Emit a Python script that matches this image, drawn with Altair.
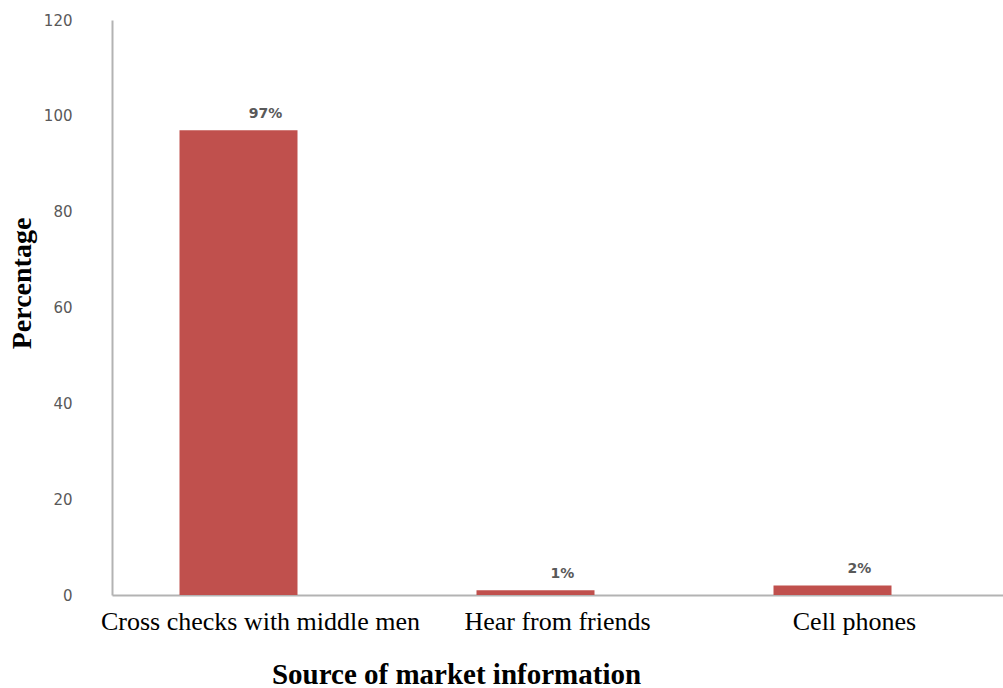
import altair as alt
import pandas as pd

categories = ["Cross checks with middle men", "Hear from friends", "Cell phones"]
values = [97, 1, 2]
labels = ["97%", "1%", "2%"]

df = pd.DataFrame({"source": categories, "pct": values, "label": labels})

x_enc = alt.X(
    "source:N",
    sort=categories,
    scale=alt.Scale(paddingInner=0, paddingOuter=0),
    axis=alt.Axis(
        title="Source of market information",
        titleFont="Liberation Serif",
        titleFontSize=29,
        titleFontWeight="bold",
        titleColor="#000000",
        titleX=344,
        titleY=88,
        titleBaseline="alphabetic",
        labelFont="Liberation Serif",
        labelFontSize=26,
        labelColor="#000000",
        labelAngle=0,
        labelPadding=13,
        labelLimit=600,
        labelOverlap=False,
        labelBound=False,
        labelFlush=False,
        ticks=False,
        domainColor="#B3B3B3",
        domainWidth=2,
    ),
)

y_enc = alt.Y(
    "pct:Q",
    scale=alt.Scale(domain=[0, 120], nice=False),
    axis=alt.Axis(
        title="Percentage",
        titleFont="Liberation Serif",
        titleFontSize=28,
        titleFontWeight="bold",
        titleColor="#000000",
        titleAngle=270,
        titleX=-90,
        titleY=263,
        titleBaseline="middle",
        values=[0, 20, 40, 60, 80, 100, 120],
        labelFont="DejaVu Sans",
        labelFontSize=15,
        labelColor="#595959",
        labelPadding=40,
        ticks=False,
        grid=False,
        domainColor="#B3B3B3",
        domainWidth=2,
    ),
)

bars = alt.Chart(df).mark_bar(size=118, xOffset=-22, color="#C0504D").encode(
    x=x_enc, y=y_enc
)

text = alt.Chart(df).mark_text(
    font="DejaVu Sans",
    fontSize=14,
    fontWeight="bold",
    color="#595959",
    baseline="bottom",
    dx=5,
    dy=-9,
).encode(x=alt.X("source:N", sort=categories), y="pct:Q", text="label:N")

chart = (
    alt.layer(bars, text)
    .properties(
        width=891,
        height=575,
        padding={"left": 112, "top": 20, "right": 0, "bottom": 93},
        autosize=alt.AutoSizeParams(type="none"),
        background="#FFFFFF",
    )
    .configure_view(stroke=None)
)

chart.save("out.html", embed_options={"renderer": "svg", "actions": False})
